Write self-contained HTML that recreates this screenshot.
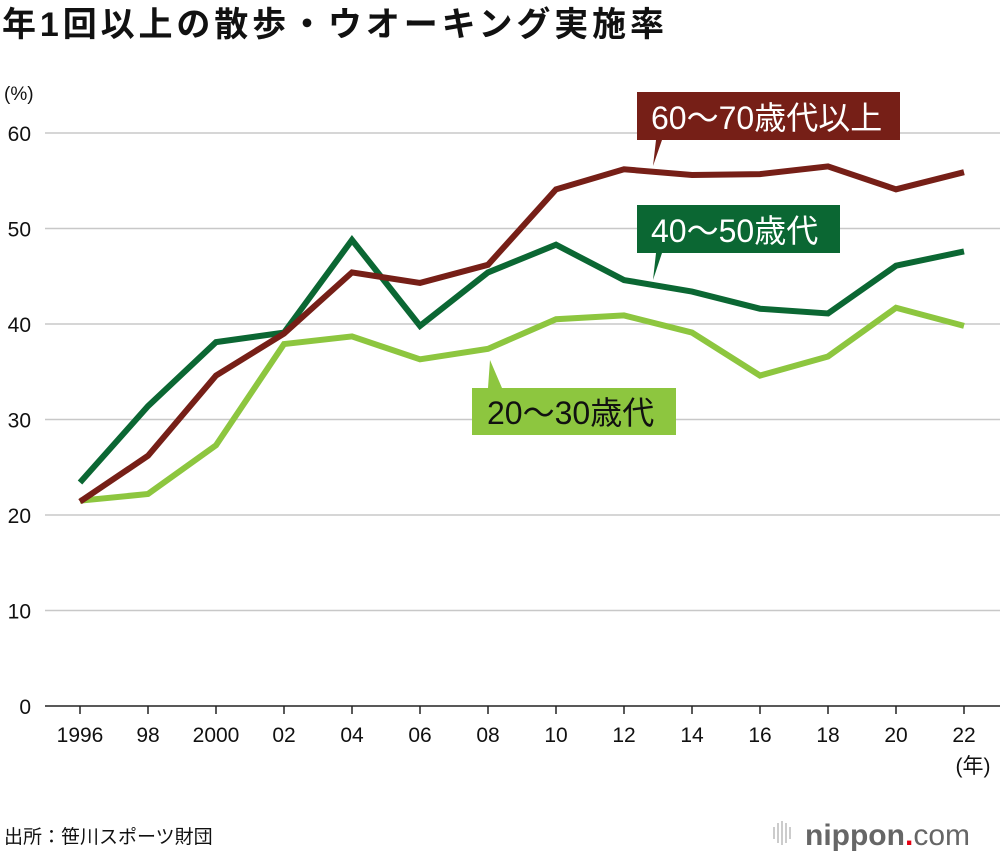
<!DOCTYPE html>
<html><head><meta charset="utf-8"><style>
body{margin:0;width:1000px;height:856px;background:#fff;overflow:hidden;font-family:"Liberation Sans","Noto Sans CJK JP",sans-serif}
</style></head><body>
<svg width="1000" height="856" xmlns="http://www.w3.org/2000/svg" font-family="'Liberation Sans','Noto Sans CJK JP',sans-serif">
<text x="2" y="36" font-size="34" font-weight="bold" fill="#111" textLength="662">年1回以上の散歩・ウオーキング実施率</text>
<text x="4" y="100" font-size="19" fill="#111">(%)</text>
<g id="grid"></g><g id="yt"></g><g id="xt"></g><g id="lines"></g>
<text x="973" y="773" font-size="21" fill="#111" text-anchor="middle">(年)</text>
<g>
<path d="M637 92H900V140H662L653 166L656 140H637Z" fill="#761f17"/>
<text x="651" y="129" font-size="32" fill="#fff">60〜70歳代以上</text></g>
<g>
<path d="M637 205H840V253H662L653 280L656 253H637Z" fill="#0b6733"/>
<text x="651" y="242" font-size="32" fill="#fff">40〜50歳代</text></g>
<g>
<path d="M472 388H676V435H472Z M488 388L490 360L502 388Z" fill="#8dc63f"/>
<text x="487" y="424" font-size="32" fill="#111">20〜30歳代</text></g>
<text x="4" y="843" font-size="19" fill="#111">出所：笹川スポーツ財団</text>
<g>
<g stroke="#bbb" stroke-width="1.5"><line x1="774" y1="827" x2="774" y2="839"/><line x1="778" y1="823" x2="778" y2="843"/><line x1="782" y1="821" x2="782" y2="845"/><line x1="786" y1="823" x2="786" y2="843"/><line x1="790" y1="827" x2="790" y2="839"/></g>
<text x="805" y="845" font-size="30" fill="#666" font-weight="bold">nippon<tspan fill="#e60012">.</tspan><tspan font-weight="normal">com</tspan></text></g>
</svg>
<script>
const years=["1996","98","2000","02","04","06","08","10","12","14","16","18","20","22"];
const yTicks=[0,10,20,30,40,50,60];
const s6070=[21.4,26.2,34.6,39.0,45.4,44.3,46.2,54.1,56.2,55.6,55.7,56.5,54.1,55.9];
const s4050=[23.4,31.4,38.1,39.1,48.8,39.8,45.4,48.3,44.6,43.4,41.6,41.1,46.1,47.6];
const s2030=[21.5,22.2,27.3,37.9,38.7,36.3,37.4,40.5,40.9,39.1,34.6,36.6,41.7,39.8];
const NS="http://www.w3.org/2000/svg";
const X=i=>80+i*(884/(years.length-1));
const Y=v=>706-v*9.55;
function mk(t,a,p){const e=document.createElementNS(NS,t);for(const k in a)e.setAttribute(k,a[k]);document.getElementById(p).appendChild(e);return e;}
yTicks.forEach(v=>{
 const g=mk('line',{x1:45,x2:1000,y1:Y(v),y2:Y(v),stroke:v===0?'#222':'#c8c8c8','stroke-width':1.5},'grid');
 
 
 const t=mk('text',{x:31,y:Y(v)+8,'font-size':21,'text-anchor':'end',fill:'#111'},'yt');t.textContent=v;
 
 
});
years.forEach((y,i)=>{
 const l=mk('line',{x1:X(i),x2:X(i),y1:706,y2:714,stroke:'#222','stroke-width':1.5},'xt');
 
 
 const t=mk('text',{x:X(i),y:742,'font-size':21,'text-anchor':'middle',fill:'#111'},'xt');t.textContent=y;
 
 
});
[[s2030,'#8dc63f','line-20-30'],[s4050,'#0b6733','line-40-50'],[s6070,'#761f17','line-60-70']].forEach(([d,c,n])=>{
 const p=mk('polyline',{points:d.map((v,i)=>X(i)+','+Y(v)).join(' '),fill:'none',stroke:c,'stroke-width':6,'stroke-linejoin':'miter'},'lines');
 
 
});
</script>
</body></html>
